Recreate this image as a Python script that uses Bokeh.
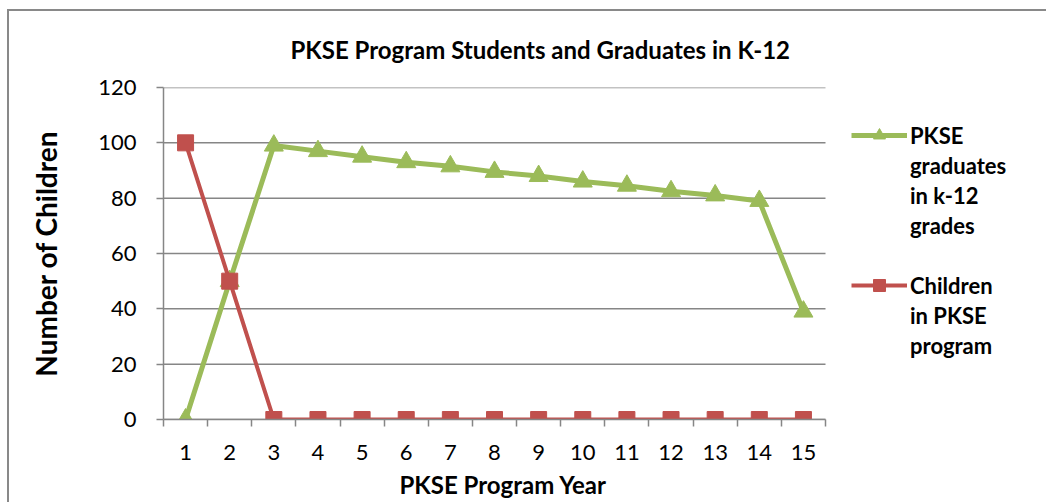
from bokeh.plotting import figure
from bokeh.models import FixedTicker, Legend, LegendItem, Range1d, Title
from bokeh.embed import file_html
from bokeh.resources import INLINE

years = list(range(1, 16))
graduates = [0, 50, 99, 97, 95, 93, 91.5, 89.5, 88, 86, 84.5, 82.5, 81, 79, 39]
children = [100, 50, 0, 0, 0, 0, 0, 0, 0, 0, 0, 0, 0, 0, 0]
y_ticks = [0, 20, 40, 60, 80, 100, 120]
legend_green = ["PKSE", "graduates", "in k-12", "grades"]
legend_red = ["Children", "in PKSE", "program"]

GREEN = "#9BBB59"
RED = "#C0504D"
GRAY = "#868686"
FONT = "Lato"

x_end = 0.5 + 885 / (662 / 15)
p = figure(width=1039, height=493, output_backend="svg", toolbar_location=None,
           x_range=Range1d(0.5, x_end), y_range=Range1d(0, 120),
           min_border_left=154, min_border_right=0, min_border_top=76, min_border_bottom=85)
p.styles = {"border-top": "2px solid #898989", "border-left": "2px solid #898989",
            "margin-left": "7px", "margin-top": "9px"}

p.title.text = "PKSE Program Students and Graduates in K-12"
p.title.align = "left"
p.title.vertical_align = "top"
p.title.offset = 127
p.title.text_font = FONT
p.title.text_font_size = "24px"
p.title.text_font_style = "bold"
p.title.text_color = "black"
p.title.standoff = 43

p.outline_line_color = None
p.xgrid.grid_line_color = None
p.ygrid.grid_line_color = None

# horizontal gridlines limited to the category span
p.segment(x0=0.5, x1=15.5, y0=y_ticks, y1=y_ticks, line_color=GRAY, line_width=1.5)

p.yaxis.ticker = FixedTicker(ticks=y_ticks)
p.yaxis.axis_line_color = GRAY
p.yaxis.axis_line_width = 1.5
p.yaxis.major_tick_line_color = GRAY
p.yaxis.major_tick_line_width = 1.5
p.yaxis.major_tick_out = 7
p.yaxis.major_tick_in = 0
p.yaxis.minor_tick_line_color = None
p.yaxis.major_label_standoff = 20
p.yaxis.major_label_text_font = FONT
p.yaxis.major_label_text_font_size = "22px"
p.yaxis.major_label_text_color = "black"
p.yaxis.axis_label = "Number of Children"
p.yaxis.axis_label_text_font = FONT
p.yaxis.axis_label_text_font_size = "28px"
p.yaxis.axis_label_text_font_style = "bold"
p.yaxis.axis_label_text_color = "black"
p.yaxis.axis_label_standoff = 32

p.xaxis.bounds = (0.5, 15.5)
p.xaxis.ticker = FixedTicker(ticks=years, minor_ticks=[y - 0.5 for y in years] + [15.5])
p.xaxis.axis_line_color = GRAY
p.xaxis.axis_line_width = 1.5
p.xaxis.major_tick_line_color = None
p.xaxis.major_tick_out = 0
p.xaxis.major_tick_in = 0
p.xaxis.minor_tick_line_color = GRAY
p.xaxis.minor_tick_line_width = 1.5
p.xaxis.minor_tick_out = 7
p.xaxis.minor_tick_in = 0
p.xaxis.major_label_standoff = 18
p.xaxis.major_label_text_font = FONT
p.xaxis.major_label_text_font_size = "22px"
p.xaxis.major_label_text_color = "black"

xlabel = Title(text="PKSE Program Year", align="left", offset=236, standoff=10,
               text_font=FONT, text_font_size="24px", text_font_style="bold",
               text_color="black")
p.add_layout(xlabel, "below")

gl = p.line(years, graduates, line_color=GREEN, line_width=5)
gm = p.scatter(years, graduates, marker="triangle", size=19, fill_color=GREEN, line_color=GREEN)
rl = p.line(years, children, line_color=RED, line_width=4)
rm = p.scatter(years, children, marker="square", size=16, fill_color=RED, line_color=RED)

items = [LegendItem(label=legend_green[0], renderers=[gl, gm])]
items += [LegendItem(label=t, renderers=[]) for t in legend_green[1:]]
items += [LegendItem(label=" ", renderers=[])]
items += [LegendItem(label=legend_red[0], renderers=[rl, rm])]
items += [LegendItem(label=t, renderers=[]) for t in legend_red[1:]]

legend = Legend(items=items, location=(688, 59))
legend.border_line_color = None
legend.background_fill_alpha = 0
legend.padding = 0
legend.margin = 0
legend.spacing = 0
legend.glyph_width = 56
legend.glyph_height = 30
legend.label_height = 30
legend.label_standoff = 3
legend.label_text_font = FONT
legend.label_text_font_size = "22px"
legend.label_text_font_style = "bold"
legend.label_text_color = "black"
p.add_layout(legend)

open("out.html", "w").write(file_html(p, INLINE))
